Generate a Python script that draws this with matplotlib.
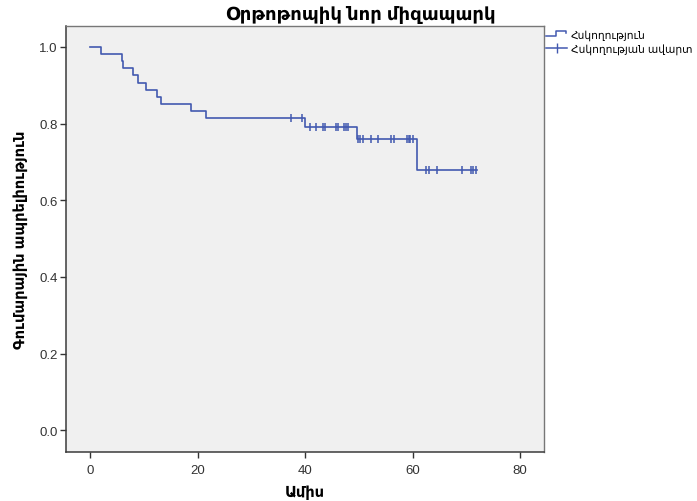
#!/usr/bin/env python3
import numpy as np
import matplotlib
matplotlib.use('Agg')
import matplotlib.pyplot as plt
from matplotlib.lines import Line2D
from matplotlib.legend_handler import HandlerBase

# Kaplan-Meier estimate: event times (months) and survival after each step
step_times = [0, 2.05, 5.9, 6.2, 7.95, 8.9, 10.4, 12.4, 13.2, 18.75, 21.6, 40.0, 49.7, 60.8]
survival = [1.0, 0.981, 0.963, 0.944, 0.926, 0.907, 0.889, 0.870, 0.852, 0.833, 0.815, 0.792, 0.761, 0.679]
last_followup = 71.9

# censored observations (months)
censor_times = [37.3, 39.4, 41.0, 42.1, 43.3, 43.8, 45.8, 46.2, 47.3, 47.7, 48.0,
                49.9, 50.3, 50.7, 52.3, 53.6, 56.0, 56.6, 59.0, 59.3, 59.6, 60.0,
                62.5, 63.0, 64.5, 69.2, 70.9, 71.3, 71.8]

title = 'Օրթոթոպիկ նոր միզապարկ'
xlabel = 'Ամիս'
ylabel = 'Գումարային ապրելիություն'
legend_labels = ['Հսկողություն', 'Հսկողության ավարտ']

blue = '#4259b0'
plt.rcParams['font.family'] = ['Liberation Sans', 'DejaVu Sans']


class StepHandler(HandlerBase):
    def create_artists(self, legend, orig_handle, xdescent, ydescent,
                       width, height, fontsize, trans):
        x0 = -xdescent
        y0 = -ydescent
        xs = [x0, x0 + 0.45 * width, x0 + 0.45 * width, x0 + 0.92 * width, x0 + 0.92 * width]
        ys = [y0 + 0.2 * height, y0 + 0.2 * height, y0 + 0.85 * height,
              y0 + 0.85 * height, y0 + 0.55 * height]
        ln = Line2D(xs, ys, color=blue, lw=1.1, transform=trans)
        return [ln]


fig = plt.figure(figsize=(6.97, 5.02), dpi=100)
ax = fig.add_axes([66 / 697, 1 - 452.7 / 502, (544.3 - 66) / 697, (452.7 - 27.3) / 502])
ax.set_facecolor('#f0f0f0')

t = np.array(step_times + [last_followup])
s = np.array(survival + [survival[-1]])
ax.step(t, s, where='post', color=blue, lw=1.2)

idx = np.searchsorted(step_times, censor_times, side='right') - 1
cy = np.array(survival)[idx]
ax.plot(censor_times, cy, linestyle='none', marker='|', ms=6, mew=1.1, color=blue)

ax.set_xlim(-4.47, 84.5)
ax.set_ylim(-0.056, 1.054)
ax.set_xticks([0, 20, 40, 60, 80])
ax.set_yticks([0.0, 0.2, 0.4, 0.6, 0.8, 1.0])
ax.set_yticklabels(['0.0', '0.2', '0.4', '0.6', '0.8', '1.0'])
ax.tick_params(length=4, width=1, color='#333333', labelsize=9.5,
               labelcolor='#333333', pad=2)
ax.tick_params(axis='x', pad=5)

for side in ['left', 'bottom']:
    ax.spines[side].set_color('#3a3a3a')
    ax.spines[side].set_linewidth(1.1)
for side in ['top', 'right']:
    ax.spines[side].set_color('#777777')
    ax.spines[side].set_linewidth(1.0)

ax.set_xlabel(xlabel, fontsize=10.5, fontweight='bold', labelpad=6)
ax.set_ylabel(ylabel, fontsize=10.5, fontweight='bold', labelpad=8)
fig.text(361 / 697, 1 - 15 / 502, title, fontsize=13, fontweight='bold',
         ha='center', va='center')

h_step = Line2D([], [], color=blue)
h_cens = Line2D([], [], color=blue, marker='|', ms=7, lw=1.1)
fig.legend([h_step, h_cens], legend_labels, loc='upper left',
           bbox_to_anchor=(546 / 697, 1 - 30 / 502), frameon=False,
           fontsize=7.7, handlelength=2.0, handletextpad=0.35,
           labelspacing=0.3, borderpad=0, borderaxespad=0,
           handler_map={h_step: StepHandler()})

fig.savefig('out.png', dpi=100)
